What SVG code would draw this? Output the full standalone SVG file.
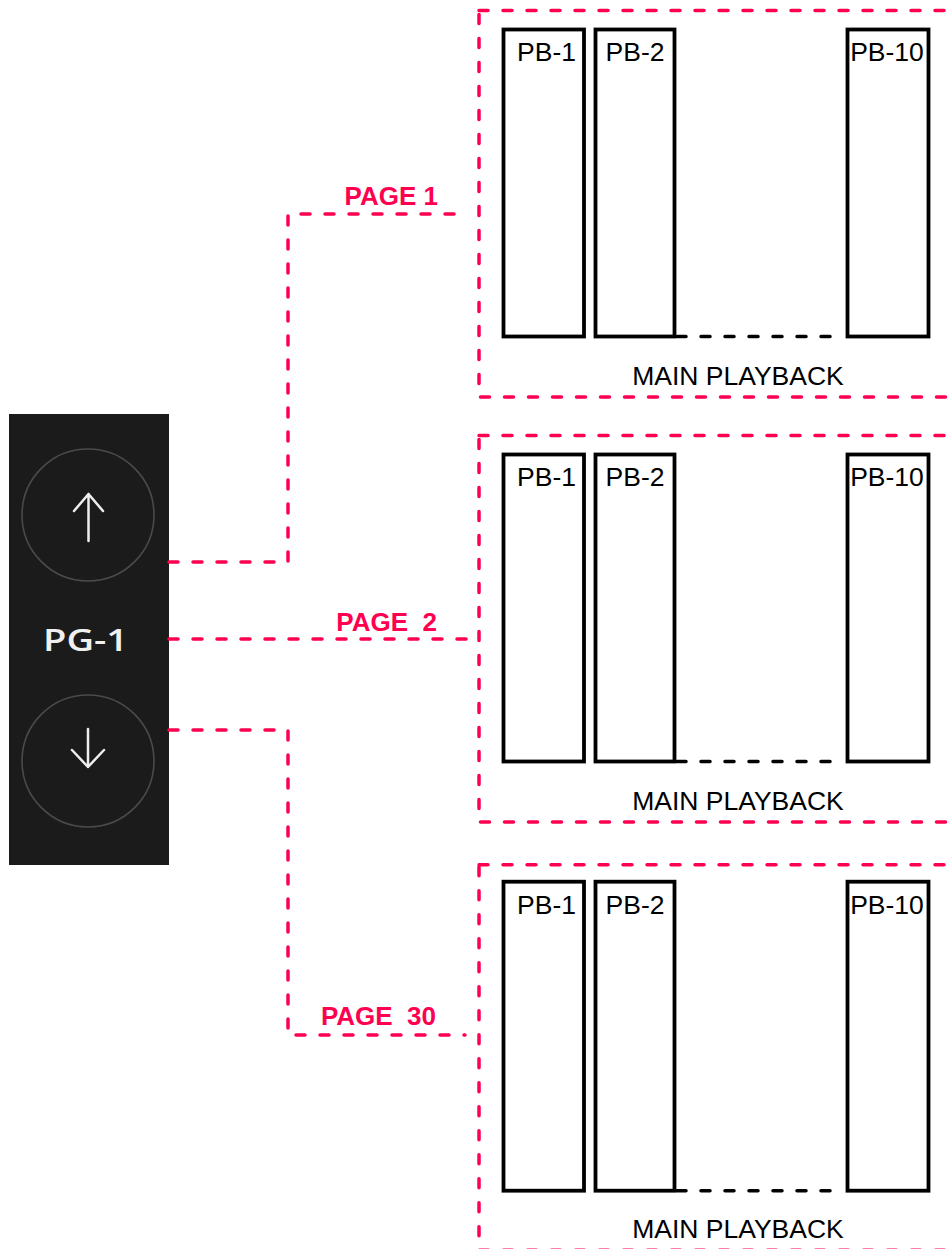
<svg xmlns="http://www.w3.org/2000/svg" width="949" height="1249" viewBox="0 0 949 1249">
  <style>
    .pink-dash { fill: none; stroke: #FF0050; stroke-width: 3.5; stroke-dasharray: 9 15; stroke-linecap: round; }
    .pb { fill: #ffffff; stroke: #000000; stroke-width: 3.8; }
    .blk-dash { fill: none; stroke: #000000; stroke-width: 3.5; stroke-dasharray: 9 15; stroke-linecap: round; }
    .pbt { font-family: "Liberation Sans", Arial, sans-serif; font-size: 26.5px; fill: #000000; text-anchor: middle; }
    .lbl { font-family: "Liberation Sans", Arial, sans-serif; font-size: 26px; font-weight: bold; fill: #FF0050; text-anchor: end; white-space: pre; }
    .circ { fill: none; stroke: #4a4a4a; stroke-width: 1.6; }
    .arr { fill: none; stroke: #eeeeee; stroke-width: 2.5; stroke-linecap: round; stroke-linejoin: round; }
  </style>
  <rect x="0" y="0" width="949" height="1249" fill="#ffffff"/>

  <g id="pager">
    <rect x="9" y="414" width="160" height="451" fill="#1b1b1b"/>
    <circle class="circ" cx="88" cy="515" r="66"/>
    <path class="arr" d="M88.5 541 V494 M74 511 L88.5 494 L103 511"/>
    <text x="43" y="651" font-family="'Open Sans', 'Noto Sans', sans-serif" font-size="30" font-weight="600" fill="#f0f0f0" textLength="85" lengthAdjust="spacingAndGlyphs">PG-1</text>
    <circle class="circ" cx="88" cy="761" r="66"/>
    <path class="arr" d="M88 729 V767 M72 750 L88 767 L104 750"/>
  </g>

  <g id="connectors">
    <path class="pink-dash" d="M169 562 H288 V214 H460"/>
    <path class="pink-dash" d="M169 639 H466"/>
    <path class="pink-dash" d="M169 730 H288 V1035 H465"/>
  </g>

  <g id="labels">
    <text class="lbl" x="438" y="205">PAGE 1</text>
    <text class="lbl" x="437" y="631">PAGE  2</text>
    <text class="lbl" x="436" y="1025">PAGE  30</text>
  </g>

  <g id="page1" transform="translate(0,10.5)">
    <rect class="pink-dash" x="479" y="0" width="520" height="386.5"/>
    <rect class="pb" x="503.5" y="19" width="80.5" height="307"/>
    <rect class="pb" x="595.5" y="19" width="79" height="307"/>
    <rect class="pb" x="847.5" y="19" width="81" height="307"/>
    <path class="blk-dash" d="M677 326 H845"/>
    <text class="pbt" x="546.5" y="50">PB-1</text>
    <text class="pbt" x="635" y="50">PB-2</text>
    <text class="pbt" x="887" y="50">PB-10</text>
    <text class="pbt" x="738" y="374">MAIN PLAYBACK</text>
  </g>

  <g id="page2" transform="translate(0,435.5)">
    <rect class="pink-dash" x="479" y="0" width="520" height="386.5"/>
    <rect class="pb" x="503.5" y="19" width="80.5" height="307"/>
    <rect class="pb" x="595.5" y="19" width="79" height="307"/>
    <rect class="pb" x="847.5" y="19" width="81" height="307"/>
    <path class="blk-dash" d="M677 326 H845"/>
    <text class="pbt" x="546.5" y="50">PB-1</text>
    <text class="pbt" x="635" y="50">PB-2</text>
    <text class="pbt" x="887" y="50">PB-10</text>
    <text class="pbt" x="738" y="374">MAIN PLAYBACK</text>
  </g>

  <g id="page30" transform="translate(0,864.7)">
    <rect class="pink-dash" x="479" y="0" width="520" height="385.5"/>
    <rect class="pb" x="503.5" y="17" width="80.5" height="309"/>
    <rect class="pb" x="595.5" y="17" width="79" height="309"/>
    <rect class="pb" x="847.5" y="17" width="81" height="309"/>
    <path class="blk-dash" d="M677 326 H845"/>
    <text class="pbt" x="546.5" y="49">PB-1</text>
    <text class="pbt" x="635" y="49">PB-2</text>
    <text class="pbt" x="887" y="49">PB-10</text>
    <text class="pbt" x="738" y="373">MAIN PLAYBACK</text>
  </g>
</svg>
